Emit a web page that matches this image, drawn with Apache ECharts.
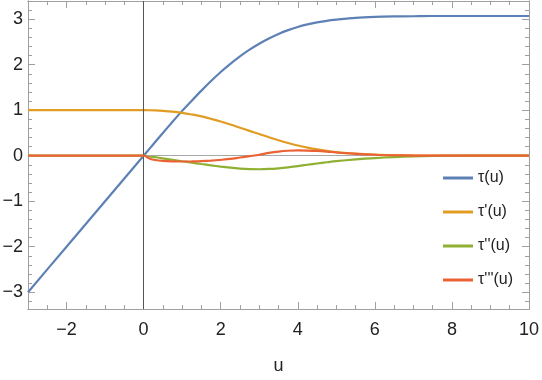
<!DOCTYPE html>
<html>
<head>
<meta charset="utf-8">
<script src="https://cdn.jsdelivr.net/npm/echarts@6/dist/echarts.min.js"></script>
<style>
html,body{margin:0;padding:0;background:#fff;}
#chart{width:542px;height:380px;}
</style>
</head>
<body>
<div id="chart"></div>
<script>
// ---- data ----
const uVals = [-3,-2,-1,0,0.15,0.3,0.5,0.75,1,1.25,1.5,1.75,2,2.25,2.5,2.75,3,3.25,3.5,3.75,4,4.25,4.5,4.75,5,5.5,6,6.5,7,7.5,8,9,10];
const tau   = [-3,-2,-1,0,0.15,0.3,0.499,0.745,0.985,1.21,1.43,1.64,1.84,2.02,2.185,2.33,2.46,2.575,2.675,2.76,2.83,2.885,2.93,2.965,2.99,3.03,3.05,3.06,3.065,3.07,3.07,3.07,3.07];
const tau1  = [1,1,1,1,0.999,0.995,0.985,0.967,0.94,0.905,0.865,0.81,0.75,0.685,0.615,0.545,0.475,0.405,0.34,0.28,0.225,0.178,0.138,0.105,0.08,0.045,0.024,0.012,0.005,0.002,0,0,0];
const tau2  = [0,0,0,0,-0.015,-0.032,-0.058,-0.09,-0.122,-0.153,-0.183,-0.212,-0.24,-0.264,-0.283,-0.295,-0.298,-0.292,-0.277,-0.255,-0.228,-0.2,-0.172,-0.145,-0.12,-0.082,-0.052,-0.03,-0.016,-0.007,-0.002,0,0];
const tau3  = [0,0,0,0,-0.06,-0.095,-0.115,-0.125,-0.128,-0.126,-0.12,-0.108,-0.092,-0.072,-0.04,-0.01,0.02,0.06,0.09,0.108,0.115,0.113,0.105,0.09,0.07,0.04,0.02,0.009,0.003,0.001,0,0,0];
const seriesNames = ["τ(u)", "τ'(u)", "τ''(u)", "τ'''(u)"];
const xTickLabels = [-2,0,2,4,6,8,10];
const yTickLabels = [-3,-2,-1,0,1,2,3];

const colors = ['#5E81B5','#E19C24','#8FB032','#EB6235'];
const xMin = -3, xMax = 10, yMin = -3.37, yMax = 3.4;

const xMinor = [];
for (let k = -6; k <= 20; k++) { const v = k/2; if (v % 2 !== 0) xMinor.push(v); }
const yMinor = [];
for (let k = -16; k <= 16; k++) { if (k % 5 !== 0) yMinor.push(k/5); }

const fmt = v => v < 0 ? '\u2212' + (-v) : String(v);
const frameColor = '#a0a0a0';
const labelStyle = {color:'#222', fontFamily:'Liberation Sans, Arial, sans-serif', fontSize:18};

function axis(kind, pos, ticks, len, labels) {
  return {
    type:'value', position:pos,
    min: kind === 'x' ? xMin : yMin,
    max: kind === 'x' ? xMax : yMax,
    axisLine:{show:true, onZero:false, lineStyle:{color:frameColor, width:1}},
    axisTick:{show:true, inside:true, length:len, customValues:ticks, lineStyle:{color:frameColor, width:1}},
    axisLabel: labels ? Object.assign({show:true, customValues:labels, formatter:fmt,
                 margin: kind === 'x' ? 12 : 5}, labelStyle) : {show:false},
    splitLine:{show:false}
  };
}

const xAxes = [
  Object.assign(axis('x','bottom',xTickLabels,7,xTickLabels), {
    name:'u', nameLocation:'middle', nameGap:48,
    nameTextStyle:{color:'#222', fontFamily:'Liberation Sans, Arial, sans-serif', fontSize:18}
  }),
  axis('x','bottom',xMinor,4,null),
  axis('x','top',xTickLabels,7,null),
  axis('x','top',xMinor,4,null)
];
const yAxes = [
  axis('y','left',yTickLabels,7,yTickLabels),
  axis('y','left',yMinor,4,null),
  axis('y','right',yTickLabels,7,null),
  axis('y','right',yMinor,4,null)
];

const series = [{
  type:'line', data:[], z:1, silent:true,
  markLine:{
    silent:true, symbol:'none', animation:false, label:{show:false},
    data:[
      {xAxis:0, lineStyle:{color:'#555', width:1, type:'solid'}},
      {yAxis:0, lineStyle:{color:'#a8a8a8', width:1, type:'solid'}}
    ]
  }
}];
const dataSets = [tau, tau1, tau2, tau3];
dataSets.forEach((vals, i) => {
  series.push({
    name: seriesNames[i], type:'line', z: 2 + i,
    data: uVals.map((u, j) => [u, vals[j]]),
    showSymbol:false, smooth:0.3,
    lineStyle:{color:colors[i], width:2.2},
    itemStyle:{color:colors[i]},
    emphasis:{disabled:true}
  });
});

const chart = echarts.init(document.getElementById('chart'), null, {renderer:'canvas'});
chart.setOption({
  animation:false,
  backgroundColor:'#fff',
  grid:{left:28, right:13, top:1, bottom:71, containLabel:false, outerBoundsMode:'none'},
  xAxis:xAxes,
  yAxis:yAxes,
  legend:{
    orient:'vertical', left:443, top:170, padding:0, itemGap:18,
    itemWidth:30, itemHeight:3,
    icon:'path://M0,0 L30,0 L30,3 L0,3 Z',
    data: seriesNames,
    textStyle:{color:'#222', fontFamily:'Liberation Sans, Arial, sans-serif', fontSize:16, lineHeight:14}
  },
  series: series
});
</script>
</body>
</html>
